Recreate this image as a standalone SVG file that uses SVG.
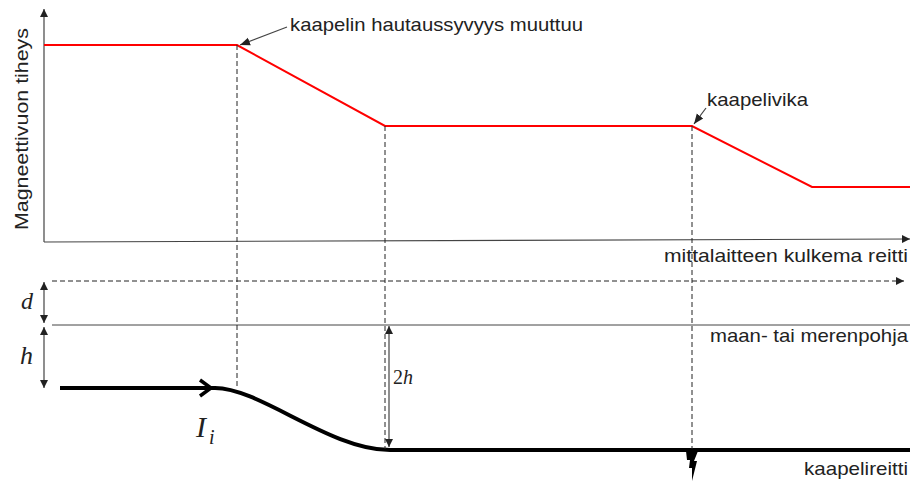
<svg xmlns="http://www.w3.org/2000/svg" width="913" height="483" viewBox="0 0 913 483">
<style>
.lbl{font-family:"Liberation Sans",Arial,sans-serif;font-size:19px;fill:#222}
.math{font-family:"Liberation Serif","Times New Roman",serif;font-style:italic;fill:#222}
.thin{stroke:#444;stroke-width:1.2;fill:none}
.dash{stroke:#222;stroke-width:1;stroke-dasharray:5,3;fill:none}
.red{stroke:#ff0000;stroke-width:2;fill:none}
.cable{stroke:#000;stroke-width:4;fill:none;stroke-linecap:butt}
</style>
<defs>
<marker id="tri" viewBox="0 0 10 10" refX="10" refY="5" markerWidth="8" markerHeight="8" markerUnits="userSpaceOnUse" orient="auto-start-reverse">
<path d="M0,0 L10,5 L0,10 Z" fill="#222"/>
</marker>
<marker id="tri2" viewBox="0 0 10 10" refX="10" refY="5" markerWidth="10" markerHeight="10" markerUnits="userSpaceOnUse" orient="auto-start-reverse">
<path d="M0,1 L10,5 L0,9 Z" fill="#222"/>
</marker>
</defs>

<g id="axes">
<line class="thin" x1="44" y1="242" x2="44" y2="9" marker-end="url(#tri)"/>
<line class="thin" x1="44" y1="242" x2="910" y2="239" marker-end="url(#tri)"/>
<text class="lbl" transform="translate(28,230) rotate(-90)" textLength="202" lengthAdjust="spacingAndGlyphs">Magneettivuon tiheys</text>
<text class="lbl" x="664" y="262" textLength="244" lengthAdjust="spacingAndGlyphs">mittalaitteen kulkema reitti</text>
</g>

<g id="field-curve">
<polyline class="red" points="44,45 237,45 385,126 692,126 812,187 910,187"/>
</g>

<g id="annotation-depth">
<text class="lbl" x="290" y="31" textLength="293" lengthAdjust="spacingAndGlyphs">kaapelin hautaussyvyys muuttuu</text>
</g>
<g id="annotation-fault">
<text class="lbl" x="707" y="106" textLength="101" lengthAdjust="spacingAndGlyphs">kaapelivika</text>
</g>

<g id="surfaces">
<line class="dash" x1="52" y1="281" x2="904" y2="281" marker-end="url(#tri)"/>
<line stroke="#444" stroke-width="1" x1="52" y1="325" x2="910" y2="325"/>
<text class="lbl" x="710" y="342" textLength="198" lengthAdjust="spacingAndGlyphs">maan- tai merenpohja</text>
</g>

<g id="dimensions">
<line class="thin" x1="44" y1="282" x2="44" y2="323" marker-start="url(#tri)" marker-end="url(#tri)"/>
<line class="thin" x1="44" y1="327" x2="44" y2="388" marker-start="url(#tri)" marker-end="url(#tri)"/>
<line class="thin" x1="389" y1="326" x2="389" y2="447" marker-start="url(#tri)" marker-end="url(#tri)"/>
<text class="math" x="21" y="309" font-size="24">d</text>
<text class="math" x="20" y="364" font-size="26">h</text>
<text x="393" y="384" font-family="Liberation Serif, Times New Roman, serif" font-size="20" fill="#222">2<tspan font-style="italic">h</tspan></text>
</g>

<g id="cable">
<path class="cable" d="M60,388 L215,388 C260,388 330,450 390,450 L910,450"/>
<polyline points="200,380 211,388 200,396" stroke="#000" stroke-width="3.5" fill="none"/>
<text class="math" x="196" y="437" font-size="30">I</text>
<text class="math" x="209" y="444" font-size="20">i</text>
<text class="lbl" x="804" y="475" textLength="104" lengthAdjust="spacingAndGlyphs">kaapelireitti</text>
<path d="M686,451 L698,451 L694,461 L697,461 L692,481 L692,468 L689,468 L690,460 L687,460 Z" fill="#000"/>
</g>

<g id="connectors">
<line class="dash" x1="237" y1="45" x2="237" y2="389"/>
<line class="dash" x1="385" y1="126" x2="385" y2="449"/>
<line class="dash" x1="692" y1="126" x2="692" y2="449"/>
<line class="thin" x1="287" y1="27" x2="240" y2="45" marker-end="url(#tri2)"/>
<line class="thin" x1="706" y1="108" x2="694" y2="124" marker-end="url(#tri2)"/>
</g>
</svg>
